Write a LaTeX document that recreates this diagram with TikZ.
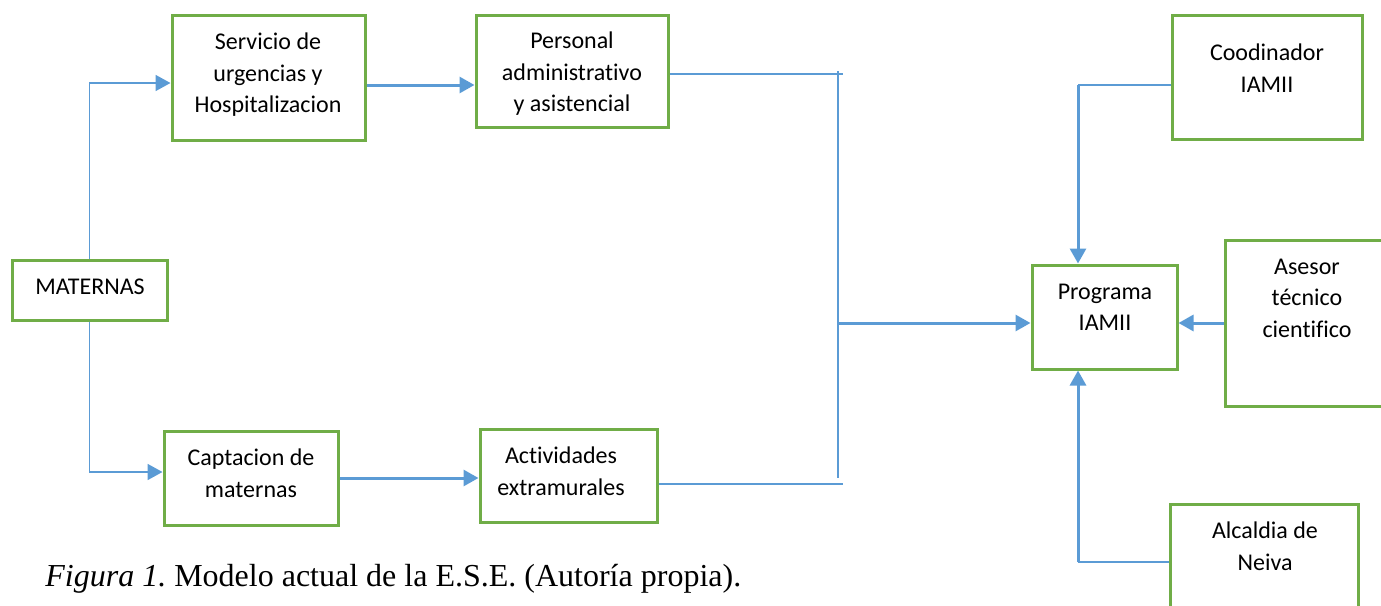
\documentclass[tikz,border=0pt]{standalone}
\usepackage{fontspec}
\setmainfont{Carlito}[Ligatures=NoCommon]
\newfontfamily\captionfont{Liberation Serif}
\usetikzlibrary{arrows.meta,calc}
\definecolor{boxgreen}{HTML}{70AD47}
\definecolor{linkblue}{HTML}{5B9BD5}
\frenchspacing

\begin{document}
\begin{tikzpicture}[x=0.5pt,y=-0.5pt,
	box/.style={draw=boxgreen, line width=1.5pt, inner sep=0pt},
	boxtext/.style={align=center, inner sep=0pt, font=\fontsize{12}{15.75}\selectfont},
	link/.style={draw=linkblue, line width=1.5pt, -{Triangle[length=7.5pt,width=8pt]}},
	thinlink/.style={draw=linkblue, line width=0.8pt}
	]
	\useasboundingbox (0,0) rectangle (1381,605);
	
	% Boxes on the left
	\node[box, minimum width=77.5pt, minimum height=30pt] (mat) at (89.5,290) {};
	\node[boxtext] (matT) at (90,287) {MATERNAS};
	\node[box, minimum width=96.5pt, minimum height=62.5pt] (serv) at (268.5,77.5) {};
	\node[boxtext] (servT) at (268,75) {Servicio de\\urgencias y\\Hospitalizacion};
	\node[box, minimum width=96pt, minimum height=56pt] (pers) at (572,71) {};
	\node[boxtext] (persT) at (572,74) {Personal\\administrativo\\y asistencial};
	\node[box, minimum width=87pt, minimum height=47pt] (capt) at (251,478) {};
	\node[boxtext] (captT) at (251,473) {Captacion de\\maternas};
	\node[box, minimum width=88.5pt, minimum height=46.5pt] (activ) at (568.5,475.5) {};
	\node[boxtext] (activT) at (561,471) {Actividades\\extramurales};
	
	% Boxes on the right
	\node[box, minimum width=72.5pt, minimum height=52pt] (prog) at (1104.5,317) {};
	\node[boxtext] (progT) at (1105,307.5) {Programa\\IAMII};
	\node[box, minimum width=95pt, minimum height=62pt] (cood) at (1267,77) {};
	\node[boxtext] (coodT) at (1267,68) {Coodinador\\IAMII};
	\node[box, minimum width=85pt, minimum height=83pt] (ases) at (1310,323) {};
	\node[boxtext] (asesT) at (1307,298) {Asesor\\técnico\\cientifico};
	\node[box, minimum width=94pt, minimum height=58pt] (alc) at (1264,562) {};
	\node[boxtext] (alcT) at (1265,546) {Alcaldia de\\Neiva};
	
	% From MATERNAS
	\draw[link, line width=0.9pt] (mat.north) |- ($(serv.west)+(0,5.5)$);
	\draw[link, line width=0.9pt] (mat.south) |- ($(capt.west)+(0,-6)$);
	
	% Left chains
	\draw[link] ($(serv.east)+(0,7.5)$) -- ($(pers.west)+(0,14)$);
	\draw[link] (capt.east) -- (capt.east -| activ.west);
	
	% Collecting line
	\coordinate (persEnd) at (843,74);
	\coordinate (activEnd) at (843,484);
	\coordinate (busTop) at (838,71);
	\coordinate (busBot) at (838,478);
	\coordinate (busMid) at (838,323);
	\draw[thinlink] ($(pers.east)+(0,3)$) -- (persEnd);
	\draw[thinlink] ($(activ.east)+(0,8.5)$) -- (activEnd);
	\draw[thinlink] (busTop) -- (busBot);
	\draw[link] (busMid) -- (busMid -| prog.west);
	
	% Into the programme
	\coordinate (coodCorner) at (1078,85);
	\coordinate (alcCorner) at (1078,562);
	\draw[thinlink] ($(cood.west)+(0,8)$) -- (coodCorner);
	\draw[link] (coodCorner) -- (coodCorner |- prog.north);
	\draw[link] (ases.west) -- (ases.west -| prog.east);
	\draw[thinlink] (alc.west) -- (alcCorner);
	\draw[link] (alcCorner) -- (alcCorner |- prog.south);
	
	% Caption
	\node[anchor=base west, inner sep=0pt, font=\captionfont\fontsize{16}{19}\selectfont] (caption) at (45,586)
		{\textit{Figura 1.} Modelo actual de la E.S.E. (Autoría propia).};
\end{tikzpicture}
\end{document}
